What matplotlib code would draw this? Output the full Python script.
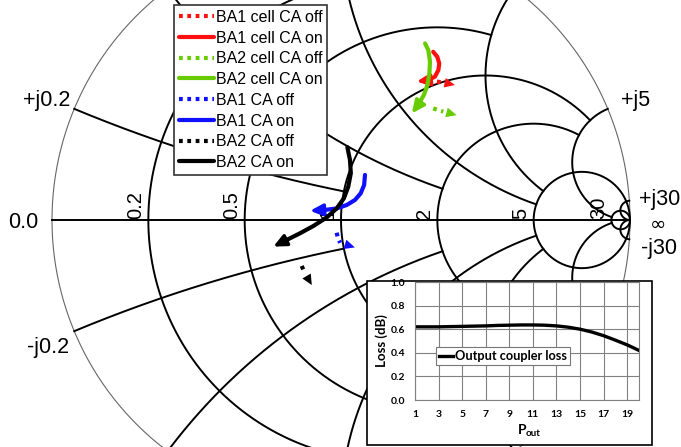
import numpy as np
import matplotlib.pyplot as plt
from matplotlib.patches import Rectangle

ba1_cell_off_re = [0.332, 0.363, 0.394]
ba1_cell_off_im = [0.479, 0.474, 0.467]
ba1_cell_on_re = [0.319, 0.333, 0.340, 0.337, 0.325, 0.302, 0.262]
ba1_cell_on_im = [0.582, 0.565, 0.542, 0.519, 0.496, 0.484, 0.479]
ba2_cell_off_re = [0.319, 0.354, 0.400]
ba2_cell_off_im = [0.386, 0.375, 0.363]
ba2_cell_on_re = [0.291, 0.302, 0.308, 0.306, 0.299, 0.287, 0.267, 0.245]
ba2_cell_on_im = [0.611, 0.588, 0.548, 0.508, 0.467, 0.433, 0.398, 0.369]
ba1_off_re = [-0.015, -0.011, -0.003, 0.048]
ba1_off_im = [-0.044, -0.061, -0.079, -0.095]
ba1_on_re = [0.083, 0.080, 0.068, 0.048, 0.020, -0.015, -0.055, -0.107]
ba1_on_im = [0.156, 0.121, 0.092, 0.069, 0.052, 0.040, 0.035, 0.032]
ba2_off_re = [-0.136, -0.125, -0.101]
ba2_off_im = [-0.159, -0.184, -0.225]
ba2_on_re = [0.022, 0.031, 0.034, 0.025, 0.010, -0.015, -0.049, -0.096, -0.142, -0.188, -0.234]
ba2_on_im = [0.252, 0.208, 0.162, 0.115, 0.075, 0.040, 0.009, -0.021, -0.046, -0.069, -0.092]

# inset: output coupler loss
pout = [1, 2, 3, 4, 5, 6, 7, 8, 9, 10, 11, 12, 13, 14, 15, 16, 17, 18, 19, 20]
loss = [0.620, 0.620, 0.620, 0.622, 0.624, 0.626, 0.628, 0.632, 0.634, 0.636,
        0.636, 0.634, 0.628, 0.617, 0.600, 0.576, 0.545, 0.507, 0.467, 0.420]

# smith grid: value -> where the line is cut
r_values = [0.2, 0.5, 1, 2, 5, 30]
r_limits = [1, 2, 5, 5, 1e6, 1e6]
x_values = [0.2, 0.5, 1, 2, 5, 30]
x_limits = [1, 2, 5, 5, 30, 1e6]

font = 'Liberation Sans'
RED, GREEN, BLUE, BLACK = '#ff1010', '#66cc00', '#1010ff', 'black'

fig = plt.figure(figsize=(6.81, 4.47), dpi=100)
ax = fig.add_axes([0, 0, 1, 1])
cx, cy, R = 341, 220, 289
ax.set_xlim(-cx / R, (681 - cx) / R)
ax.set_ylim((cy - 447) / R, cy / R)
ax.axis('off')


def gamma(z):
    return (z - 1) / (z + 1)


# outer circle
t = np.linspace(0, 2 * np.pi, 800)
ax.plot(np.cos(t), np.sin(t), color='#666666', lw=0.8, zorder=1)

# real axis
ax.plot([-1, 1], [0, 0], color='black', lw=1.4, zorder=1)

for r, xl in zip(r_values, r_limits):
    s = np.geomspace(1e-4, xl, 3000)
    xs = np.concatenate([-s[::-1], [0], s])
    g = gamma(r + 1j * xs)
    ax.plot(g.real, g.imag, color='black', lw=1.4, zorder=1)

for x, rl in zip(x_values, x_limits):
    rs = np.concatenate([[0], np.geomspace(1e-4, rl, 3000)])
    for sgn in (1, -1):
        g = gamma(rs + 1j * sgn * x)
        ax.plot(g.real, g.imag, color='black', lw=1.4, zorder=1)

# resistance labels
for r in [0.2, 0.5, 1, 2, 5, 30]:
    g = gamma(r)
    ax.annotate(str(r) if r < 1 else str(int(r)), (g, 0), xytext=(-3, 1),
                textcoords='offset pixels', rotation=90, ha='right', va='bottom',
                fontsize=14.5, family=font, zorder=2)

# reactance / edge labels
edge = [('+j0.2', gamma(0.2j), (-4, 8), 'right'),
        ('-j0.2', gamma(-0.2j), (-5, -16), 'right'),
        ('0.0', complex(-1, 0), (-14, -2), 'right'),
        ('+j5', gamma(5j), (13, 8), 'left'),
        ('+j30', gamma(30j), (10, 1), 'left'),
        ('-j30', gamma(-30j), (12, -9), 'left')]
for txt, g, off, ha in edge:
    ax.annotate(txt, (g.real, g.imag), xytext=off, textcoords='offset pixels',
                ha=ha, va='center', fontsize=15.5, family=font, zorder=2)
ax.annotate('\u221e', (1, 0), xytext=(20, -4), textcoords='offset pixels',
            ha='left', va='center', fontsize=14, family='DejaVu Sans', zorder=2)

# traces
traces = [
    (ba1_cell_off_re, ba1_cell_off_im, RED, ':', 'BA1 cell CA off'),
    (ba1_cell_on_re, ba1_cell_on_im, RED, '-', 'BA1 cell CA on'),
    (ba2_cell_off_re, ba2_cell_off_im, GREEN, ':', 'BA2 cell CA off'),
    (ba2_cell_on_re, ba2_cell_on_im, GREEN, '-', 'BA2 cell CA on'),
    (ba1_off_re, ba1_off_im, BLUE, ':', 'BA1 CA off'),
    (ba1_on_re, ba1_on_im, BLUE, '-', 'BA1 CA on'),
    (ba2_off_re, ba2_off_im, BLACK, ':', 'BA2 CA off'),
    (ba2_on_re, ba2_on_im, BLACK, '-', 'BA2 CA on'),
]
handles = []
for re, im, c, ls, lab in traces:
    if ls == ':':
        dash = (0, (0.9, 1.1))
    else:
        dash = '-'
    h, = ax.plot(re[:-1], im[:-1], color=c, lw=3, ls=dash, label=lab,
                 solid_capstyle='round', zorder=3)
    handles.append(h)
    ax.annotate('', xy=(re[-1], im[-1]), xytext=(re[-2], im[-2]),
                arrowprops=dict(arrowstyle='-|>,head_length=0.75,head_width=0.35',
                                color=c, lw=2.5 if ls == '-' else 0,
                                mutation_scale=10, shrinkA=0, shrinkB=0),
                zorder=3)

leg = ax.legend(handles=handles, loc='upper left',
                bbox_to_anchor=(174 / 681, 1 - 5 / 447), bbox_transform=fig.transFigure,
                frameon=True, fancybox=False, framealpha=1, edgecolor='#333333',
                borderaxespad=0, borderpad=0.3, handlelength=2.2, handletextpad=0.1,
                labelspacing=0.36, prop={'family': font, 'size': 11.5})
leg.get_frame().set_linewidth(1.2)
leg.set_zorder(5)

# inset box
box = Rectangle((367 / 681, 1 - 445 / 447), 285 / 681, 164 / 447,
                transform=fig.transFigure, facecolor='white', edgecolor='black',
                lw=1.2, zorder=10)
fig.add_artist(box)

ins = fig.add_axes([415 / 681, 1 - 400 / 447, 224 / 681, 118 / 447], zorder=11)
ins.plot(pout, loss, color='black', lw=2.4, label='Output coupler loss')
ins.set_xlim(1, 20)
ins.set_ylim(0, 1)
ins.set_xticks(range(1, 20, 2))
ins.set_yticks(np.arange(0, 1.01, 0.2))
ins.set_yticklabels(['%.1f' % v for v in np.arange(0, 1.01, 0.2)])
ins.grid(True, color='#808080', lw=0.8)
for sp in ins.spines.values():
    sp.set_color('#808080')
    sp.set_linewidth(0.8)
ins.tick_params(length=0, pad=7, labelsize=7.5)
for lb in ins.get_xticklabels() + ins.get_yticklabels():
    lb.set_family('Lato')
    lb.set_fontweight('bold')
ins.set_ylabel('Loss (dB)', family='Lato', fontweight='bold', fontsize=9.5, labelpad=2)
il = ins.legend(loc='upper left', bbox_to_anchor=(436 / 681, 1 - 347 / 447),
                bbox_transform=fig.transFigure, frameon=True, fancybox=False,
                framealpha=1, edgecolor='#777777', borderaxespad=0, borderpad=0.25,
                handlelength=1.1, handletextpad=0.1,
                prop={'family': 'Lato', 'weight': 'bold', 'size': 9.2})
il.get_frame().set_linewidth(0.8)

fig.text(518 / 681, 1 - 430 / 447, 'P', family='Lato', fontweight='bold',
         fontsize=10, va='center', ha='left', zorder=12)
fig.text(526 / 681, 1 - 434 / 447, 'out', family='Lato', fontweight='bold',
         fontsize=7, va='center', ha='left', zorder=12)

fig.savefig('out.png', dpi=100)
